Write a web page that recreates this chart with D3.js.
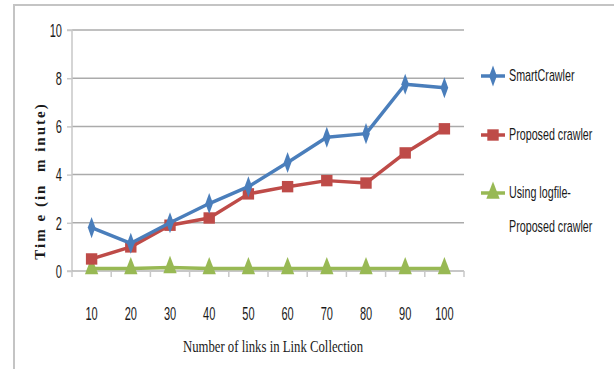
<!DOCTYPE html>
<html>
<head>
<meta charset="utf-8">
<script src="https://cdn.jsdelivr.net/npm/d3@7"></script>
<style>
  html, body { margin: 0; padding: 0; background: #fff; }
  svg { display: block; }
</style>
</head>
<body>
<svg id="chart" width="614" height="369"></svg>
<script>
// Crawl time against the number of links in the link collection
const categories = [10, 20, 30, 40, 50, 60, 70, 80, 90, 100];
const smartCrawler = [1.8, 1.15, 2.0, 2.8, 3.5, 4.5, 5.55, 5.7, 7.75, 7.6];
const proposedCrawler = [0.5, 1.0, 1.9, 2.2, 3.2, 3.5, 3.75, 3.65, 4.9, 5.9];
const logfileCrawler = [0.1, 0.1, 0.15, 0.1, 0.1, 0.1, 0.1, 0.1, 0.1, 0.1];
const yTicks = [0, 2, 4, 6, 8, 10];
const seriesNames = [["SmartCrawler"], ["Proposed crawler"], ["Using logfile-", "Proposed crawler"]];
const xTitle = "Number of links in Link Collection";
const yTitle = "Tim e (in  m inute)";

const series = [
  { name: seriesNames[0], values: smartCrawler, color: "#4a7ebb", marker: "diamond" },
  { name: seriesNames[1], values: proposedCrawler, color: "#be4b48", marker: "square" },
  { name: seriesNames[2], values: logfileCrawler, color: "#98b954", marker: "triangle" }
];

const svg = d3.select("#chart");
const plot = { left: 72, right: 464, top: 30, bottom: 271 };

const x = d3.scalePoint().domain(categories).range([plot.left, plot.right]).padding(0.5);
const y = d3.scaleLinear().domain([0, 10]).range([plot.bottom, plot.top]);
const step = x.step();

// outer frame (left and top edges)
svg.append("path")
  .attr("d", "M14,369 L14,5 L614,5")
  .attr("fill", "none").attr("stroke", "#c4c4c4").attr("stroke-width", 2);

// horizontal gridlines
svg.append("g").selectAll("line").data(yTicks.filter(d => d > 0)).join("line")
  .attr("x1", plot.left).attr("x2", plot.right)
  .attr("y1", d => y(d)).attr("y2", d => y(d))
  .attr("stroke", "#ababab").attr("stroke-width", 1.5);

// y axis with tick marks
const yAxis = d3.axisLeft(y).tickValues(yTicks).tickSize(5).tickFormat("");
const gy = svg.append("g").attr("transform", `translate(${plot.left},0)`).call(yAxis);
gy.select(".domain").attr("stroke", "#c8c8c8").attr("stroke-width", 1.5)
  .attr("d", `M-5,${plot.bottom}H0V${plot.top}H-5`);
gy.selectAll(".tick line").attr("stroke", "#c8c8c8").attr("stroke-width", 1.5);

// x axis baseline and category boundary ticks
const boundaries = d3.range(categories.length + 1).map(i => plot.left + i * step);
svg.append("line")
  .attr("x1", plot.left).attr("x2", plot.right)
  .attr("y1", y(0)).attr("y2", y(0))
  .attr("stroke", "#b5b5b5").attr("stroke-width", 1.5);
svg.append("g").selectAll("line").data(boundaries).join("line")
  .attr("x1", d => d).attr("x2", d => d)
  .attr("y1", y(0)).attr("y2", y(0) + 6)
  .attr("stroke", "#c8c8c8").attr("stroke-width", 1.5);

// condensed text helper
function narrowText(g, x0, y0, str, opts) {
  return g.append("text")
    .attr("transform", `translate(${x0},${y0}) scale(${opts.sx},1)`)
    .attr("font-family", opts.family)
    .attr("font-size", opts.size)
    .attr("font-weight", opts.weight || "normal")
    .attr("text-anchor", opts.anchor || "start")
    .attr("dominant-baseline", "central")
    .attr("fill", opts.fill || "#1a1a1a")
    .text(str);
}

const tickFont = { family: "Liberation Sans, Arial, sans-serif", size: 19, sx: 0.58 };

// y tick labels
const gyl = svg.append("g");
yTicks.forEach(v => narrowText(gyl, 62, y(v), String(v), { ...tickFont, anchor: "end" }));

// x tick labels
const gxl = svg.append("g");
categories.forEach(c => narrowText(gxl, x(c), 313, String(c), { ...tickFont, anchor: "middle" }));

// axis titles
narrowText(svg, 273, 346, xTitle,
  { family: "Liberation Serif, Times New Roman, serif", size: 17, sx: 0.75, anchor: "middle" });

svg.append("text")
  .attr("transform", `translate(40,181) rotate(-90)`)
  .attr("font-family", "Liberation Serif, Times New Roman, serif")
  .attr("font-size", 15)
  .attr("font-weight", "bold")
  .attr("text-anchor", "middle")
  .attr("dominant-baseline", "central")
  .attr("fill", "#1a1a1a")
  .attr("letter-spacing", 2)
  .style("white-space", "pre")
  .text(yTitle);

// marker shapes
const markerPath = {
  diamond: d3.symbol().type(d3.symbolDiamond).size(70),
  square: d3.symbol().type(d3.symbolSquare).size(130),
  triangle: d3.symbol().type(d3.symbolTriangle).size(95)
};
const markerScale = { diamond: "scale(0.85,1.35)", square: "scale(1,1)", triangle: "scale(0.9,1.35)" };

const line = d3.line().x((d, i) => x(categories[i])).y(d => y(d));

// series lines and markers
series.slice().reverse().forEach(s => {
  const g = svg.append("g");
  g.append("path")
    .attr("d", line(s.values))
    .attr("fill", "none")
    .attr("stroke", s.color)
    .attr("stroke-width", 3.5)
    .attr("stroke-linejoin", "round");
  g.selectAll("path.mk").data(s.values).join("path")
    .attr("class", "mk")
    .attr("d", markerPath[s.marker]())
    .attr("transform", (d, i) => `translate(${x(categories[i])},${y(d)}) ${markerScale[s.marker]}`)
    .attr("fill", s.color);
});

// legend
const legendY = [76, 135, 193];
const legendFont = { family: "Liberation Sans, Arial, sans-serif", size: 16, sx: 0.67, fill: "#1a1a1a" };
series.forEach((s, i) => {
  const g = svg.append("g");
  const ly = legendY[i];
  g.append("line")
    .attr("x1", 481).attr("x2", 505)
    .attr("y1", ly).attr("y2", ly)
    .attr("stroke", s.color).attr("stroke-width", 3.5);
  g.append("path")
    .attr("d", markerPath[s.marker]())
    .attr("transform", `translate(493,${ly}) ${markerScale[s.marker]}`)
    .attr("fill", s.color);
  s.name.forEach((n, k) => narrowText(g, 509, ly + k * 34, n, legendFont));
});
</script>
</body>
</html>
